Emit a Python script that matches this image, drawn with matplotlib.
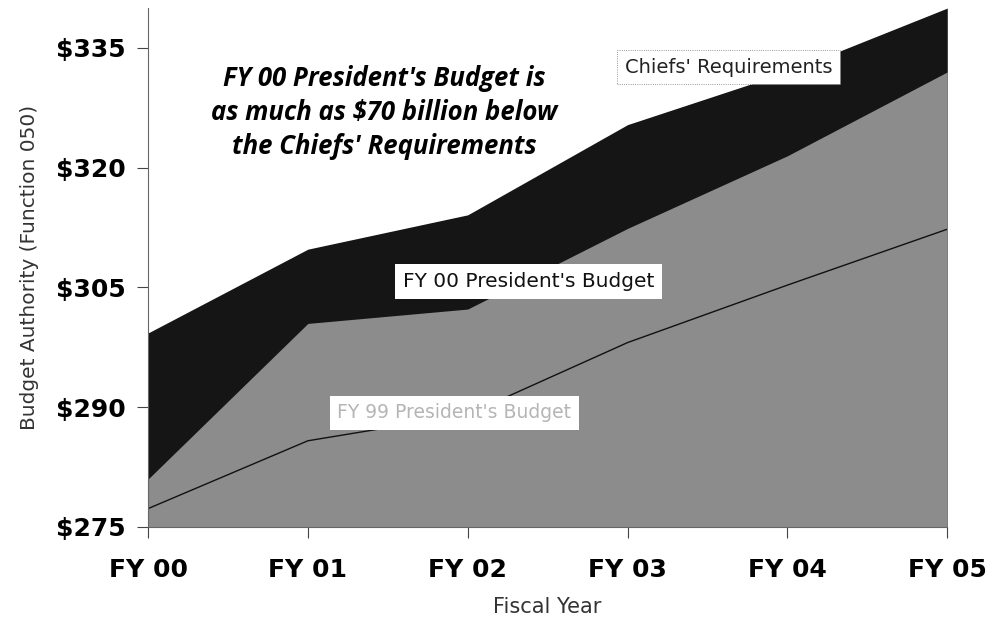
import matplotlib
matplotlib.use("Agg")
import matplotlib.pyplot as plt

# data (billions of $)
years = ["FY 00", "FY 01", "FY 02", "FY 03", "FY 04", "FY 05"]
chiefs = [299.3, 309.8, 314.1, 325.4, 332.0, 340.0]
pb_fy00 = [281.0, 300.5, 302.3, 312.4, 321.5, 332.0]
pb_fy99 = [277.3, 285.8, 289.1, 298.1, 305.3, 312.3]
yticks = [275, 290, 305, 320, 335]

plt.rcParams['font.family'] = ['DejaVu Sans']

fig = plt.figure(figsize=(9.88, 6.2), dpi=100)
ax = fig.add_axes([0.1498, 0.15, 0.809, 0.837])

x = list(range(len(years)))
base = 275

# dark band for the chiefs, mid grey for FY00 budget, thin line for FY99
ax.fill_between(x, base, chiefs, color='#151515', lw=0)
ax.fill_between(x, base, pb_fy00, color='#8c8c8c', lw=0)
ax.plot(x, pb_fy99, color='#111111', lw=1.0)

ax.set_xlim(0, 5)
ax.set_ylim(275, 340)
ax.set_xticks(x)
ax.set_xticklabels(years, fontsize=18, fontweight='bold')
ax.set_yticks(yticks)
ax.set_yticklabels(["$%d" % v for v in yticks], fontsize=18, fontweight='bold')
ax.tick_params(axis='x', length=8, pad=14, color='#444444')
ax.tick_params(axis='y', length=8, pad=8, color='#444444')

for s in ['top', 'right']:
    ax.spines[s].set_visible(False)
ax.spines['left'].set_color('#666666')
ax.spines['bottom'].set_color('#666666')
ax.spines['left'].set_linewidth(0.8)
ax.spines['bottom'].set_linewidth(0.8)

ax.set_xlabel("Fiscal Year", fontsize=15, color='#333333', labelpad=11)
ax.set_ylabel("Budget Authority (Function 050)", fontsize=14.5,
              color='#333333', labelpad=12)

# callout text
ax.text(1.48, 326.9, "FY 00 President's Budget is\nas much as $70 billion below\nthe Chiefs' Requirements",
        fontsize=18.5, fontweight='bold', style='italic', ha='center', va='center',
        linespacing=1.35, family=['Open Sans', 'DejaVu Sans'])

# series labels
ax.text(3.63, 332.6, "Chiefs' Requirements", fontsize=14, ha='center', va='center',
        color='#222222',
        bbox=dict(boxstyle='square,pad=0.4', fc='white', ec='#777777', lw=0.6, ls=':'))
ax.text(2.38, 305.8, "FY 00 President's Budget", fontsize=14.5, ha='center', va='center',
        color='#111111',
        bbox=dict(boxstyle='square,pad=0.4', fc='white', ec='none'))
ax.text(1.915, 289.3, "FY 99 President's Budget", fontsize=13.5, ha='center', va='center',
        color='#b5b5b5',
        bbox=dict(boxstyle='square,pad=0.4', fc='white', ec='none'))

fig.savefig("out.png", dpi=100)
